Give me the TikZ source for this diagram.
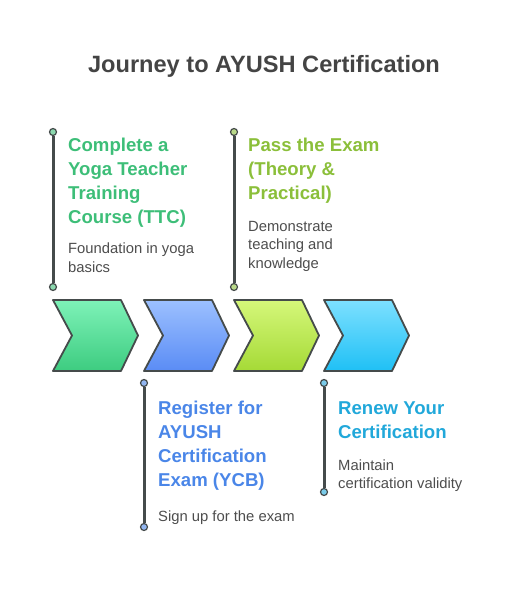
\documentclass[tikz,border=0pt]{standalone}
\usepackage{fontspec}
\setmainfont{Liberation Sans}
\definecolor{edgegray}{HTML}{454B4B}
\definecolor{descgray}{HTML}{4D4D4D}
\definecolor{titlegray}{HTML}{444444}
\definecolor{ttcgreen}{HTML}{3DBE78}
\definecolor{ycbblue}{HTML}{4A86E8}
\definecolor{examlime}{HTML}{8BBF3A}
\definecolor{renewcyan}{HTML}{21A8DA}
\begin{document}
\begin{tikzpicture}[
    x=1pt, y=-1pt,
    head/.style = {anchor=base west, align=left, font=\bfseries\fontsize{18.6}{24}\selectfont, inner sep=0pt},
    desc/.style = {anchor=base west, align=left, font=\fontsize{14.8}{18}\selectfont, text=descgray, inner sep=0pt},
    stem/.style = {draw=edgegray, line width=3pt},
    dot/.style = {circle, draw=edgegray, line width=1.2pt, minimum size=7pt, inner sep=0pt},
    arrowbox/.style = {draw=edgegray, line width=1.8pt, line join=round}
    ]
    \useasboundingbox (0,0) rectangle (528,601);

    % Title
    \node[font=\bfseries\fontsize{23.6}{28}\selectfont, text=titlegray] (title) at (264,66) {Journey to AYUSH Certification};

    % Chevrons
    \foreach \x/\tc/\bc [count=\i] in {53/7EF2B8/3DCC80, 144/9CC0FF/5A8CF5, 234/D5F77A/A5DA36, 324/7DE0FF/1FC0F5} {
        \definecolor{chtop}{HTML}{\tc}
        \definecolor{chbot}{HTML}{\bc}
        \draw[arrowbox, top color=chtop, bottom color=chbot]
            (\x,300) -- ++(68,0) -- ++(17,35.5) -- ++(-17,35.5) -- ++(-68,0) -- ++(19,-35.5) -- cycle;
    }

    % Step 1: TTC (anchors sit on the last baseline)
    \node[dot, fill=ttcgreen!60] (ttc top) at (53,132) {};
    \node[dot, fill=ttcgreen!60] (ttc bot) at (53,287) {};
    \draw[stem] (ttc top) -- (ttc bot);
    \node[head, text=ttcgreen] (ttc head) at (68,223.5) {Complete a\\Yoga Teacher\\Training\\Course (TTC)};
    \node[desc] (ttc desc) at (68,272) {Foundation in yoga\\basics};

    % Step 2: YCB
    \node[dot, fill=ycbblue!60] (ycb top) at (144,383) {};
    \node[dot, fill=ycbblue!60] (ycb bot) at (144,527) {};
    \draw[stem] (ycb top) -- (ycb bot);
    \node[head, text=ycbblue] (ycb head) at (158,486.5) {Register for\\AYUSH\\Certification\\Exam (YCB)};
    \node[desc] (ycb desc) at (158,521) {Sign up for the exam};

    % Step 3: Exam
    \node[dot, fill=examlime!60] (exam top) at (234,132) {};
    \node[dot, fill=examlime!60] (exam bot) at (234,287) {};
    \draw[stem] (exam top) -- (exam bot);
    \node[head, text=examlime] (exam head) at (248,199.5) {Pass the Exam\\(Theory \&\\Practical)};
    \node[desc] (exam desc) at (248,268) {Demonstrate\\teaching and\\knowledge};

    % Step 4: Renew
    \node[dot, fill=renewcyan!60] (renew top) at (324,383) {};
    \node[dot, fill=renewcyan!60] (renew bot) at (324,492) {};
    \draw[stem] (renew top) -- (renew bot);
    \node[head, text=renewcyan] (renew head) at (338,438.5) {Renew Your\\Certification};
    \node[desc] (renew desc) at (338,488) {Maintain\\certification validity};
\end{tikzpicture}
\end{document}
